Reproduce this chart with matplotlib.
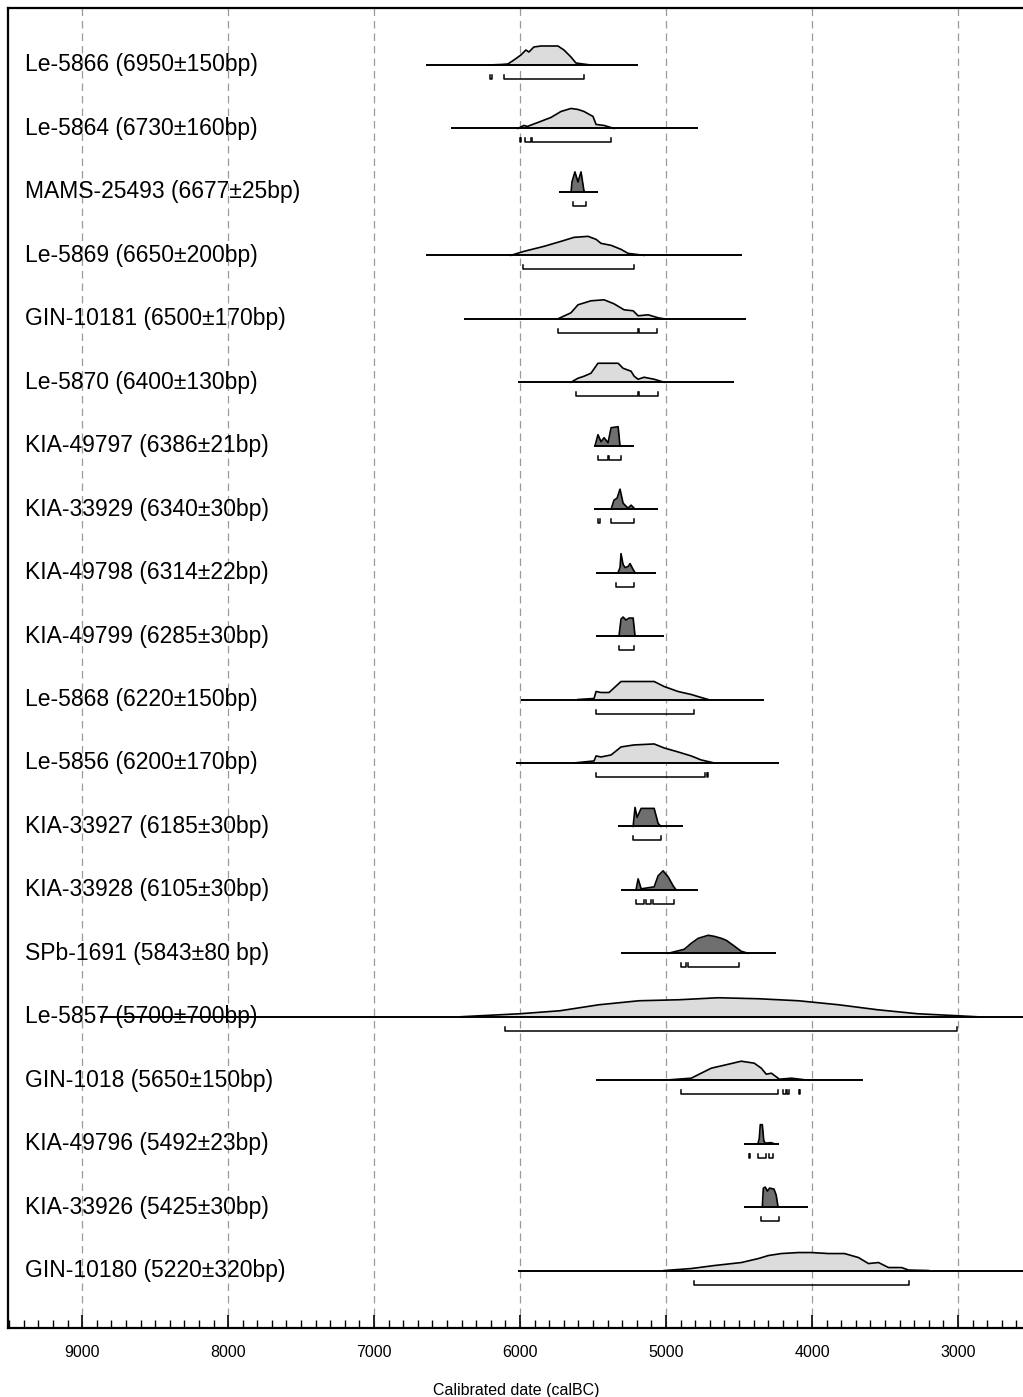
import matplotlib
matplotlib.use("Agg")
import matplotlib.pyplot as plt
from matplotlib.ticker import MultipleLocator

plt.rcParams['font.family'] = ['Liberation Sans', 'DejaVu Sans']

# sample labels (top to bottom)
labels = ['Le-5866 (6950±150bp)', 'Le-5864 (6730±160bp)', 'MAMS-25493 (6677±25bp)',
          'Le-5869 (6650±200bp)', 'GIN-10181 (6500±170bp)', 'Le-5870 (6400±130bp)',
          'KIA-49797 (6386±21bp)', 'KIA-33929 (6340±30bp)', 'KIA-49798 (6314±22bp)',
          'KIA-49799 (6285±30bp)', 'Le-5868 (6220±150bp)', 'Le-5856 (6200±170bp)',
          'KIA-33927 (6185±30bp)', 'KIA-33928 (6105±30bp)', 'SPb-1691 (5843±80 bp)',
          'Le-5857 (5700±700bp)', 'GIN-1018 (5650±150bp)', 'KIA-49796 (5492±23bp)',
          'KIA-33926 (5425±30bp)', 'GIN-10180 (5220±320bp)']
ams = [False, False, True, False, False, False, True, True, True, True,
       False, False, True, True, True, False, False, True, True, False]

# calibrated distributions: years calBC and relative probability
le5866_yr = [6220, 6131, 6083, 6042, 5994, 5960, 5939, 5905, 5857, 5740, 5699, 5651, 5617, 5569, 5514]
le5866_p = [0, 0.5, 1, 5, 10, 15, 13, 18, 19, 19, 15, 8, 2, 1, 0]
le5866_span = (6646, 5191)
le5866_rng = [(6205, 6195), (6110, 5560)]

le5864_yr = [6015, 5973, 5950, 5877, 5788, 5719, 5651, 5603, 5562, 5500, 5479, 5424, 5356]
le5864_p = [0, 3, 2, 6, 11, 17, 20, 19, 17, 12, 4, 3, 0]
le5864_span = (6474, 4779)
le5864_rng = [(6000, 5990), (5965, 5925), (5915, 5380)]

mams_yr = [5650, 5644, 5624, 5603, 5582, 5562, 5555]
mams_p = [0, 10, 20, 10, 20, 1, 0]
mams_span = (5733, 5466)
mams_rng = [(5637, 5548)]

le5869_yr = [6063, 5973, 5836, 5719, 5630, 5534, 5479, 5445, 5376, 5308, 5260, 5150]
le5869_p = [0, 4, 9, 14, 18, 19, 16, 12, 10, 6, 2, 0]
le5869_span = (6646, 4477)
le5869_rng = [(5980, 5219)]

gin10181_yr = [5740, 5651, 5603, 5514, 5424, 5356, 5287, 5225, 5191, 5122, 5054, 5013]
gin10181_p = [0, 6, 14, 18, 19, 15, 9, 8, 3, 4, 1, 0]
gin10181_span = (6385, 4450)
gin10181_rng = [(5740, 5195), (5185, 5060)]

le5870_yr = [5651, 5603, 5562, 5514, 5466, 5328, 5294, 5239, 5218, 5191, 5150, 5081, 5013]
le5870_p = [0, 4, 6, 9, 19, 19, 14, 11, 6, 3, 5, 3, 0]
le5870_span = (6015, 4532)
le5870_rng = [(5617, 5195), (5185, 5054)]

kia49797_yr = [5486, 5466, 5445, 5424, 5397, 5376, 5328, 5315]
kia49797_p = [0, 11, 4, 8, 3, 18, 19, 0]
kia49797_span = (5493, 5219)
kia49797_rng = [(5466, 5400), (5390, 5308)]

kia33929_yr = [5376, 5356, 5335, 5315, 5294, 5260, 5239, 5212]
kia33929_p = [0, 9, 11, 20, 6, 1, 4, 0]
kia33929_span = (5493, 5054)
kia33929_rng = [(5465, 5455), (5376, 5219)]

kia49798_yr = [5328, 5315, 5308, 5294, 5280, 5260, 5246, 5225, 5212]
kia49798_p = [0, 5, 19, 8, 5, 6, 9, 3, 0]
kia49798_span = (5479, 5068)
kia49798_rng = [(5342, 5219)]

kia49799_yr = [5322, 5308, 5294, 5274, 5253, 5225, 5212]
kia49799_p = [0, 17, 19, 16, 18, 18, 0]
kia49799_span = (5479, 5013)
kia49799_rng = [(5322, 5219)]

le5868_yr = [5603, 5493, 5479, 5445, 5390, 5308, 5219, 5081, 5013, 4917, 4827, 4759, 4711]
le5868_p = [0, 1, 8, 7, 7, 18, 18, 18, 13, 8, 5, 2, 0]
le5868_span = (5994, 4326)
le5868_rng = [(5479, 4807)]

le5856_yr = [5630, 5493, 5479, 5445, 5376, 5308, 5219, 5081, 5013, 4917, 4827, 4759, 4670]
le5856_p = [0, 2, 7, 6, 8, 16, 18, 19, 15, 11, 7, 3, 0]
le5856_span = (6028, 4223)
le5856_rng = [(5479, 4730), (4720, 4711)]

kia33927_yr = [5225, 5212, 5198, 5170, 5136, 5081, 5054, 5034]
kia33927_p = [0, 19, 9, 18, 18, 18, 3, 0]
kia33927_span = (5328, 4882)
kia33927_rng = [(5225, 5034)]

kia33928_yr = [5205, 5191, 5170, 5081, 5054, 5020, 4985, 4951, 4931]
kia33928_p = [0, 11, 1, 3, 14, 19, 13, 4, 0]
kia33928_span = (5308, 4779)
kia33928_rng = [(5205, 5150), (5140, 5100), (5090, 4944)]

spb1691_yr = [4985, 4875, 4827, 4779, 4711, 4670, 4621, 4587, 4539, 4484, 4436]
spb1691_p = [0, 4, 10, 15, 18, 17, 15, 13, 8, 2, 0]
spb1691_span = (5308, 4244)
spb1691_rng = [(4896, 4860), (4850, 4498)]

le5857_yr = [6406, 6001, 5726, 5459, 5184, 4910, 4642, 4367, 4093, 3818, 3551, 3276, 3002, 2871]
le5857_p = [0, 3, 6, 12, 16, 17, 19, 18, 16, 12, 7, 3, 1, 0]
le5857_span = (8880, 2540)
le5857_rng = [(6104, 3009)]

gin1018_yr = [5013, 4827, 4759, 4690, 4601, 4484, 4395, 4347, 4313, 4278, 4223, 4141, 4024]
gin1018_p = [0, 2, 7, 12, 15, 19, 17, 12, 6, 7, 1, 2, 0]
gin1018_span = (5479, 3647)
gin1018_rng = [(4896, 4230), (4196, 4180), (4170, 4155), (4090, 4082)]

kia49796_yr = [4370, 4361, 4354, 4340, 4330, 4320, 4280, 4260]
kia49796_p = [0, 5, 19, 19, 3, 0.5, 1, 0]
kia49796_span = (4464, 4223)
kia49796_rng = [(4432, 4426), (4368, 4313), (4292, 4265)]

kia33926_yr = [4340, 4333, 4320, 4305, 4290, 4260, 4245, 4232]
kia33926_p = [0, 19, 20, 16, 19, 18, 12, 0]
kia33926_span = (4464, 4024)
kia33926_rng = [(4347, 4223)]

gin10180_yr = [5013, 4827, 4670, 4484, 4367, 4299, 4210, 4093, 4004, 3887, 3777, 3681, 3613, 3544, 3475, 3386, 3338, 3201]
gin10180_p = [0, 2, 5, 8, 12, 15, 17, 18, 18, 17, 17, 13, 7, 8, 3, 3, 0.5, 0]
gin10180_span = (6015, 2540)
gin10180_rng = [(4807, 3338)]

samples = [
    (le5866_yr, le5866_p, le5866_span, le5866_rng),
    (le5864_yr, le5864_p, le5864_span, le5864_rng),
    (mams_yr, mams_p, mams_span, mams_rng),
    (le5869_yr, le5869_p, le5869_span, le5869_rng),
    (gin10181_yr, gin10181_p, gin10181_span, gin10181_rng),
    (le5870_yr, le5870_p, le5870_span, le5870_rng),
    (kia49797_yr, kia49797_p, kia49797_span, kia49797_rng),
    (kia33929_yr, kia33929_p, kia33929_span, kia33929_rng),
    (kia49798_yr, kia49798_p, kia49798_span, kia49798_rng),
    (kia49799_yr, kia49799_p, kia49799_span, kia49799_rng),
    (le5868_yr, le5868_p, le5868_span, le5868_rng),
    (le5856_yr, le5856_p, le5856_span, le5856_rng),
    (kia33927_yr, kia33927_p, kia33927_span, kia33927_rng),
    (kia33928_yr, kia33928_p, kia33928_span, kia33928_rng),
    (spb1691_yr, spb1691_p, spb1691_span, spb1691_rng),
    (le5857_yr, le5857_p, le5857_span, le5857_rng),
    (gin1018_yr, gin1018_p, gin1018_span, gin1018_rng),
    (kia49796_yr, kia49796_p, kia49796_span, kia49796_rng),
    (kia33926_yr, kia33926_p, kia33926_span, kia33926_rng),
    (gin10180_yr, gin10180_p, gin10180_span, gin10180_rng),
]

major_ticks = [9000, 8000, 7000, 6000, 5000, 4000, 3000]

W, H = 1023, 1397
fig = plt.figure(figsize=(W / 100, H / 100), dpi=100)
ax = fig.add_axes([8 / W, (H - 1328) / H, (W - 8) / W + 0.002, (1328 - 8) / H])
ax.set_xlim(9508, 2540)
ax.set_ylim(1328, 8)

for xv in major_ticks:
    ax.axvline(xv, color='#9a9a9a', lw=0.9, ls=(0, (6, 4)), zorder=0)

row_gap = 63.45
for i, (yr, p, span, rng) in enumerate(samples):
    base = 65 + row_gap * i
    top = [base - v for v in p]
    ax.fill_between(yr, base, top, color='#6f6f6f' if ams[i] else '#dcdcdc', lw=0, zorder=2)
    ax.plot(yr, top, color='black', lw=1.2, zorder=3)
    ax.hlines(base, span[0], span[1], color='black', lw=1.4, zorder=3)
    ry = base + 14
    for a, b in rng:
        ax.plot([a, a, b, b], [ry - 4, ry, ry, ry - 4], color='black', lw=1.1, zorder=3)
    ax.text(17 / (W - 8), base, labels[i], transform=ax.get_yaxis_transform(),
            fontsize=16.5, va='center', ha='left', zorder=4)

ax.xaxis.set_major_locator(MultipleLocator(1000))
ax.xaxis.set_minor_locator(MultipleLocator(100))
ax.tick_params(axis='x', which='major', direction='in', length=9.5, width=1.2,
               labelsize=11.5, pad=12)
ax.tick_params(axis='x', which='minor', direction='in', length=5.5, width=1.0)
ax.set_yticks([])
for s in ax.spines.values():
    s.set_linewidth(1.6)
ax.set_xlabel('Calibrated date (calBC)', fontsize=11.5, labelpad=17)

fig.savefig('out.png', dpi=100)
